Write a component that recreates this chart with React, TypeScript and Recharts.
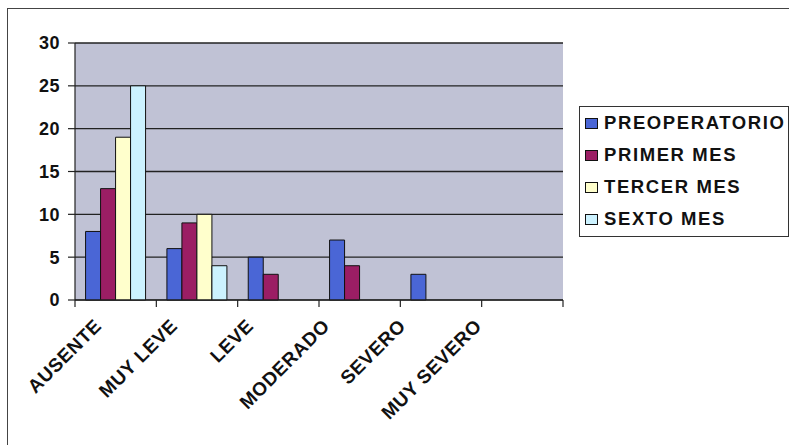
import React from 'react';
import { BarChart, Bar, XAxis, YAxis, CartesianGrid, Legend } from 'recharts';

const categories = ['AUSENTE', 'MUY LEVE', 'LEVE', 'MODERADO', 'SEVERO', 'MUY SEVERO'];
const preoperatorio = [8, 6, 5, 7, 3, 0];
const primerMes = [13, 9, 3, 4, 0, 0];
const tercerMes = [19, 10, 0, 0, 0, 0];
const sextoMes = [25, 4, 0, 0, 0, 0];
const yTicks = [0, 5, 10, 15, 20, 25, 30];

const seriesNames = ['PREOPERATORIO', 'PRIMER MES', 'TERCER MES', 'SEXTO MES'];
const seriesColors = ['#4a66d6', '#9b1e64', '#ffffcc', '#ccf2ff'];

const data = categories.map((c, i) => ({
  name: c,
  s0: preoperatorio[i],
  s1: primerMes[i],
  s2: tercerMes[i],
  s3: sextoMes[i],
}));

const FONT = '"Liberation Sans", Arial, sans-serif';

const XTick = (props: any) => {
  const { x, y, payload, index, visibleTicksCount } = props;
  const half = payload && payload.offset ? payload.offset : 0;
  const shift = -13 - 5.3 * index;
  const ax = x + shift;
  const ay = y + 27;
  return (
    <g>
      <line x1={x - half} x2={x - half} y1={y} y2={y + 7} stroke="#222" strokeWidth={1.2} />
      {index === visibleTicksCount - 1 ? (
        <line x1={x + half} x2={x + half} y1={y} y2={y + 7} stroke="#222" strokeWidth={1.2} />
      ) : null}
      <text
        x={ax}
        y={ay}
        textAnchor="end"
        transform={`rotate(-45, ${ax}, ${ay})`}
        fontFamily={FONT}
        fontSize={19}
        fontWeight="bold"
        letterSpacing={0.6}
        fill="#111"
      >
        {payload.value}
      </text>
    </g>
  );
};

const renderLegend = () => (
  <div
    style={{
      border: '1px solid #333',
      background: '#fff',
      width: 208,
      height: 129,
      boxSizing: 'content-box',
      fontFamily: FONT,
    }}
  >
    {seriesNames.map((n, i) => (
      <div key={n} style={{ height: 32, display: 'flex', alignItems: 'center', paddingLeft: 5 }}>
        <span
          style={{
            display: 'inline-block',
            width: 11,
            height: 9,
            border: '1px solid #111',
            background: seriesColors[i],
            marginRight: 6,
          }}
        />
        <span style={{ fontSize: 18.5, fontWeight: 'bold', letterSpacing: 1.6, color: '#111', whiteSpace: 'nowrap' }}>{n}</span>
      </div>
    ))}
  </div>
);

export default function App() {
  return (
    <div style={{ position: 'absolute', left: 0, top: 0, width: 789, height: 445, overflow: 'hidden', background: '#fff' }}>
      <div
        style={{
          position: 'absolute',
          left: 7,
          top: 8,
          width: 800,
          height: 460,
          border: '1px solid #444',
        }}
      />
      <div style={{ position: 'absolute', left: 0, top: 0 }}>
        <BarChart
          width={789}
          height={445}
          data={data}
          margin={{ top: 43, right: 226, bottom: 25, left: 0 }}
          barGap={0}
          barCategoryGap="13%"
        >
          <CartesianGrid vertical={false} stroke="#222" strokeWidth={1.4} fill="#c0c2d5" fillOpacity={1} />
          <XAxis
            dataKey="name"
            height={120}
            interval={0}
            tickLine={false}
            tickSize={0}
            tickMargin={0}
            axisLine={{ stroke: '#222', strokeWidth: 1.2 }}
            tick={<XTick />}
          />
          <YAxis
            width={75}
            domain={[0, 30]}
            ticks={yTicks}
            interval={0}
            tickSize={7}
            tickMargin={8}
            axisLine={{ stroke: '#222', strokeWidth: 1.2 }}
            tickLine={{ stroke: '#222', strokeWidth: 1.2 }}
            tick={{ fill: '#111', fontSize: 18, fontFamily: FONT, fontWeight: 'bold', letterSpacing: 0.5 }}
          />
          <YAxis
            yAxisId="right"
            orientation="right"
            width={0}
            domain={[0, 30]}
            tick={false}
            tickLine={false}
            axisLine={{ stroke: '#8a8a9a', strokeWidth: 1 }}
          />
          <Legend
            layout="vertical"
            align="center"
            verticalAlign="middle"
            wrapperStyle={{ position: 'absolute', left: 579, top: 106, width: 210, height: 131 }}
            content={renderLegend}
          />
          {seriesNames.map((n, i) => (
            <Bar
              key={n}
              dataKey={`s${i}`}
              name={n}
              fill={seriesColors[i]}
              stroke="#111"
              strokeWidth={1}
              isAnimationActive={false}
            />
          ))}
        </BarChart>
      </div>
    </div>
  );
}
